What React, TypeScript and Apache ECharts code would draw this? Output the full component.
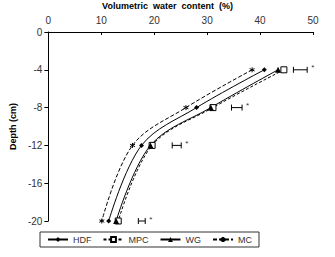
import React, { useEffect, useRef } from "react";
import * as echarts from "echarts";

const depths = [-4, -8, -12, -20];
const hdf = [40.8, 28.0, 17.6, 11.4];
const mpc = [44.5, 31.1, 19.6, 13.2];
const wg = [43.4, 30.7, 19.3, 12.8];
const mc = [38.5, 26.0, 15.9, 10.1];
const errLow = [46.3, 34.6, 23.4, 17.0];
const errHigh = [48.9, 36.6, 25.1, 18.3];
const xTicks = [0, 10, 20, 30, 40, 50];

const FONT = "'Liberation Sans Narrow', 'Arial Narrow', 'Liberation Sans', sans-serif";
const asterisk = "path://M0,-5L0,5M-4.3,-2.5L4.3,2.5M-4.3,2.5L4.3,-2.5";

export default function App() {
  const ref = useRef<HTMLDivElement>(null);
  useEffect(() => {
    if (!ref.current) return;
    const chart = echarts.init(ref.current, null, { renderer: "svg" });
    const pair = (vals: number[]) => vals.map((v, i) => [v, depths[i]]);
    const lineBase = {
      type: "line",
      smooth: 0.35,
      color: "#000",
    };
    chart.setOption({
      animation: false,
      textStyle: { fontFamily: FONT },
      title: {
        text: "Volumetric  water  content  (%)",
        left: "center",
        top: 1,
        padding: 0,
        textStyle: { fontSize: 9, fontWeight: "bold", color: "#000", fontFamily: "Liberation Sans", lineHeight: 10 },
      },
      grid: { left: 40, right: 22, top: 32, bottom: 36 },
      xAxis: {
        type: "value",
        position: "top",
        min: 0,
        max: 50,
        interval: 10,
        axisLine: { show: true, lineStyle: { color: "#000", width: 1 } },
        axisTick: { show: true, inside: true, length: 3, lineStyle: { color: "#000" } },
        axisLabel: { fontSize: 10, color: "#333", margin: 7, fontFamily: FONT,
          formatter: (v: number) => (xTicks.includes(v) ? String(v) : "") },
        splitLine: { show: false },
      },
      yAxis: {
        type: "value",
        min: -20,
        max: 0,
        interval: 4,
        name: "Depth (cm)",
        nameLocation: "middle",
        nameGap: 24,
        nameTextStyle: { fontSize: 9, fontWeight: "bold", color: "#000", fontFamily: FONT },
        axisLine: { show: true, lineStyle: { color: "#000", width: 1 } },
        axisTick: { show: true, length: 4, lineStyle: { color: "#000" } },
        axisLabel: { fontSize: 10, color: "#333", margin: 6, fontFamily: FONT },
        splitLine: { show: false },
      },
      legend: {
        left: 40,
        top: 232,
        padding: [3, 7, 3, 7],
        borderColor: "#333",
        borderWidth: 1,
        itemGap: 11,
        itemWidth: 20,
        itemHeight: 6,
        textStyle: { fontSize: 9, color: "#333", fontFamily: FONT },
        data: ["HDF", "MPC", "WG", "MC"],
      },
      series: [
        {
          ...lineBase,
          name: "HDF",
          data: pair(hdf),
          symbol: "diamond",
          symbolSize: 5,
          lineStyle: { color: "#000", width: 1 },
          itemStyle: { color: "#000" },
        },
        {
          ...lineBase,
          name: "MPC",
          data: pair(mpc),
          symbol: "rect",
          symbolSize: 6,
          lineStyle: { color: "#000", width: 1, type: [3, 2] },
          itemStyle: { color: "#fff", borderColor: "#000", borderWidth: 1 },
        },
        {
          ...lineBase,
          name: "WG",
          data: pair(wg),
          symbol: "triangle",
          symbolSize: 6,
          lineStyle: { color: "#000", width: 1 },
          itemStyle: { color: "#000" },
        },
        {
          ...lineBase,
          name: "MC",
          data: pair(mc),
          symbol: asterisk,
          symbolSize: 5,
          lineStyle: { color: "#000", width: 1, type: [4, 2] },
          itemStyle: { color: "#000", borderColor: "#000", borderWidth: 1 },
        },
        {
          type: "custom",
          name: "err",
          silent: true,
          data: depths.map((d, i) => [errLow[i], errHigh[i], d]),
          renderItem: (params: any, api: any) => {
            const lo = api.coord([api.value(0), api.value(2)]);
            const hi = api.coord([api.value(1), api.value(2)]);
            const s = { stroke: "#000", lineWidth: 1 };
            return {
              type: "group",
              children: [
                { type: "line", shape: { x1: lo[0], y1: lo[1], x2: hi[0], y2: hi[1] }, style: s },
                { type: "line", shape: { x1: lo[0], y1: lo[1] - 3, x2: lo[0], y2: lo[1] + 3 }, style: s },
                { type: "line", shape: { x1: hi[0], y1: hi[1] - 3, x2: hi[0], y2: hi[1] + 3 }, style: s },
                {
                  type: "text",
                  x: hi[0] + 4,
                  y: hi[1] - 6,
                  style: { text: "*", fontSize: 8, fill: "#333", fontFamily: FONT },
                },
              ],
            };
          },
        },
      ],
    });
    return () => chart.dispose();
  }, []);
  return (
    <div
      ref={ref}
      style={{ position: "absolute", left: 0, top: 0, width: 335, height: 257 }}
    />
  );
}
